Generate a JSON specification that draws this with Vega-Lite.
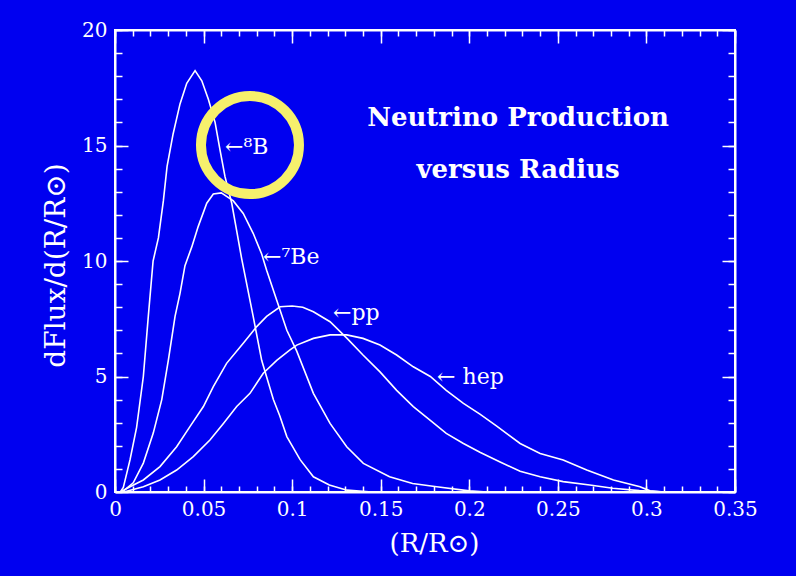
{
  "$schema": "https://vega.github.io/schema/vega-lite/v6.json",
  "width": 620,
  "height": 462,
  "autosize": "none",
  "padding": {"left": 115, "top": 30, "right": 61, "bottom": 84},
  "background": "#0000f0",
  "config": {
    "view": {"stroke": "white", "strokeWidth": 2},
    "font": "DejaVu Serif",
    "axis": {
      "domainColor": "white",
      "domainWidth": 2,
      "tickColor": "white",
      "tickWidth": 1.5,
      "labelColor": "white",
      "titleColor": "white",
      "labelFont": "DejaVu Serif",
      "titleFont": "DejaVu Serif",
      "labelFontSize": 20,
      "titleFontSize": 26,
      "titleFontWeight": "normal",
      "grid": false,
      "labelOverlap": false,
      "labelBound": false,
      "labelFlush": false
    }
  },
  "datasets": {
    "curves": [
      {"source": "8B", "r": 0.0, "flux": 0},
      {"source": "8B", "r": 0.003, "flux": 0},
      {"source": "8B", "r": 0.0047, "flux": 0.2},
      {"source": "8B", "r": 0.0085, "flux": 1.4},
      {"source": "8B", "r": 0.0122, "flux": 2.8},
      {"source": "8B", "r": 0.016, "flux": 5.0},
      {"source": "8B", "r": 0.0188, "flux": 7.6},
      {"source": "8B", "r": 0.0215, "flux": 10.0},
      {"source": "8B", "r": 0.0245, "flux": 11.0},
      {"source": "8B", "r": 0.0273, "flux": 12.6},
      {"source": "8B", "r": 0.0294, "flux": 14.1},
      {"source": "8B", "r": 0.0328, "flux": 15.5},
      {"source": "8B", "r": 0.0367, "flux": 16.8},
      {"source": "8B", "r": 0.0405, "flux": 17.69},
      {"source": "8B", "r": 0.0452, "flux": 18.24},
      {"source": "8B", "r": 0.049, "flux": 17.8},
      {"source": "8B", "r": 0.0527, "flux": 17.0},
      {"source": "8B", "r": 0.0565, "flux": 16.0},
      {"source": "8B", "r": 0.0593, "flux": 14.8},
      {"source": "8B", "r": 0.0621, "flux": 13.65},
      {"source": "8B", "r": 0.0659, "flux": 12.5},
      {"source": "8B", "r": 0.0687, "flux": 11.3},
      {"source": "8B", "r": 0.0715, "flux": 10.1},
      {"source": "8B", "r": 0.078, "flux": 7.6},
      {"source": "8B", "r": 0.0828, "flux": 5.7},
      {"source": "8B", "r": 0.0894, "flux": 4.0},
      {"source": "8B", "r": 0.093, "flux": 3.3},
      {"source": "8B", "r": 0.097, "flux": 2.4},
      {"source": "8B", "r": 0.1045, "flux": 1.4},
      {"source": "8B", "r": 0.112, "flux": 0.66},
      {"source": "8B", "r": 0.121, "flux": 0.3},
      {"source": "8B", "r": 0.131, "flux": 0.08},
      {"source": "8B", "r": 0.145, "flux": 0},
      {"source": "7Be", "r": 0.0, "flux": 0},
      {"source": "7Be", "r": 0.004, "flux": 0},
      {"source": "7Be", "r": 0.0103, "flux": 0.4},
      {"source": "7Be", "r": 0.016, "flux": 1.25},
      {"source": "7Be", "r": 0.0216, "flux": 2.55},
      {"source": "7Be", "r": 0.0264, "flux": 4.0},
      {"source": "7Be", "r": 0.0301, "flux": 5.7},
      {"source": "7Be", "r": 0.0339, "flux": 7.6},
      {"source": "7Be", "r": 0.0367, "flux": 8.6},
      {"source": "7Be", "r": 0.0395, "flux": 9.8},
      {"source": "7Be", "r": 0.0433, "flux": 10.6},
      {"source": "7Be", "r": 0.047, "flux": 11.5},
      {"source": "7Be", "r": 0.0518, "flux": 12.5},
      {"source": "7Be", "r": 0.0555, "flux": 12.9},
      {"source": "7Be", "r": 0.06, "flux": 12.95},
      {"source": "7Be", "r": 0.0668, "flux": 12.6},
      {"source": "7Be", "r": 0.0724, "flux": 12.06},
      {"source": "7Be", "r": 0.078, "flux": 11.2},
      {"source": "7Be", "r": 0.0828, "flux": 10.3},
      {"source": "7Be", "r": 0.0856, "flux": 9.6},
      {"source": "7Be", "r": 0.0913, "flux": 8.3},
      {"source": "7Be", "r": 0.097, "flux": 7.0},
      {"source": "7Be", "r": 0.1026, "flux": 6.1},
      {"source": "7Be", "r": 0.112, "flux": 4.27},
      {"source": "7Be", "r": 0.1214, "flux": 2.97},
      {"source": "7Be", "r": 0.1308, "flux": 1.96},
      {"source": "7Be", "r": 0.1402, "flux": 1.24},
      {"source": "7Be", "r": 0.155, "flux": 0.66},
      {"source": "7Be", "r": 0.168, "flux": 0.37},
      {"source": "7Be", "r": 0.1816, "flux": 0.23},
      {"source": "7Be", "r": 0.2, "flux": 0.05},
      {"source": "7Be", "r": 0.21, "flux": 0},
      {"source": "pp", "r": 0.0, "flux": 0},
      {"source": "pp", "r": 0.003, "flux": 0},
      {"source": "pp", "r": 0.0085, "flux": 0.23},
      {"source": "pp", "r": 0.016, "flux": 0.52},
      {"source": "pp", "r": 0.0254, "flux": 1.1},
      {"source": "pp", "r": 0.0348, "flux": 1.96},
      {"source": "pp", "r": 0.0423, "flux": 2.83},
      {"source": "pp", "r": 0.0499, "flux": 3.7},
      {"source": "pp", "r": 0.0555, "flux": 4.56},
      {"source": "pp", "r": 0.063, "flux": 5.57},
      {"source": "pp", "r": 0.0724, "flux": 6.44},
      {"source": "pp", "r": 0.08, "flux": 7.16},
      {"source": "pp", "r": 0.0856, "flux": 7.6},
      {"source": "pp", "r": 0.0932, "flux": 8.02},
      {"source": "pp", "r": 0.1, "flux": 8.05},
      {"source": "pp", "r": 0.106, "flux": 8.0},
      {"source": "pp", "r": 0.112, "flux": 7.8},
      {"source": "pp", "r": 0.1214, "flux": 7.37},
      {"source": "pp", "r": 0.131, "flux": 6.65},
      {"source": "pp", "r": 0.14, "flux": 5.93},
      {"source": "pp", "r": 0.1496, "flux": 5.2},
      {"source": "pp", "r": 0.159, "flux": 4.4},
      {"source": "pp", "r": 0.1684, "flux": 3.7},
      {"source": "pp", "r": 0.178, "flux": 3.1},
      {"source": "pp", "r": 0.187, "flux": 2.54},
      {"source": "pp", "r": 0.1967, "flux": 2.1},
      {"source": "pp", "r": 0.206, "flux": 1.72},
      {"source": "pp", "r": 0.2174, "flux": 1.3},
      {"source": "pp", "r": 0.2287, "flux": 0.9},
      {"source": "pp", "r": 0.24, "flux": 0.66},
      {"source": "pp", "r": 0.253, "flux": 0.45},
      {"source": "pp", "r": 0.268, "flux": 0.3},
      {"source": "pp", "r": 0.281, "flux": 0.16},
      {"source": "pp", "r": 0.296, "flux": 0.06},
      {"source": "pp", "r": 0.31, "flux": 0},
      {"source": "hep", "r": 0.0, "flux": 0},
      {"source": "hep", "r": 0.005, "flux": 0},
      {"source": "hep", "r": 0.016, "flux": 0.23},
      {"source": "hep", "r": 0.0254, "flux": 0.52},
      {"source": "hep", "r": 0.0348, "flux": 0.95},
      {"source": "hep", "r": 0.0442, "flux": 1.53},
      {"source": "hep", "r": 0.0536, "flux": 2.25},
      {"source": "hep", "r": 0.0612, "flux": 2.97},
      {"source": "hep", "r": 0.0687, "flux": 3.7},
      {"source": "hep", "r": 0.0762, "flux": 4.27},
      {"source": "hep", "r": 0.0837, "flux": 5.14},
      {"source": "hep", "r": 0.0913, "flux": 5.7},
      {"source": "hep", "r": 0.0988, "flux": 6.15},
      {"source": "hep", "r": 0.1026, "flux": 6.36},
      {"source": "hep", "r": 0.112, "flux": 6.65},
      {"source": "hep", "r": 0.1214, "flux": 6.8},
      {"source": "hep", "r": 0.1308, "flux": 6.8},
      {"source": "hep", "r": 0.14, "flux": 6.65},
      {"source": "hep", "r": 0.1496, "flux": 6.36},
      {"source": "hep", "r": 0.159, "flux": 5.93},
      {"source": "hep", "r": 0.1684, "flux": 5.42},
      {"source": "hep", "r": 0.178, "flux": 5.0},
      {"source": "hep", "r": 0.187, "flux": 4.4},
      {"source": "hep", "r": 0.1967, "flux": 3.84},
      {"source": "hep", "r": 0.206, "flux": 3.37},
      {"source": "hep", "r": 0.2155, "flux": 2.85},
      {"source": "hep", "r": 0.2287, "flux": 2.1},
      {"source": "hep", "r": 0.24, "flux": 1.67},
      {"source": "hep", "r": 0.253, "flux": 1.39},
      {"source": "hep", "r": 0.2663, "flux": 0.95},
      {"source": "hep", "r": 0.2814, "flux": 0.52},
      {"source": "hep", "r": 0.2964, "flux": 0.23},
      {"source": "hep", "r": 0.302, "flux": 0.05},
      {"source": "hep", "r": 0.31, "flux": 0}
    ],
    "curveLabels": [
      {"text": "←⁸B", "r": 0.0621, "flux": 14.94},
      {"text": "←⁷Be", "r": 0.0836, "flux": 10.17},
      {"text": "←pp", "r": 0.1231, "flux": 7.75},
      {"text": "← hep", "r": 0.1818, "flux": 4.98}
    ],
    "heading": [
      {"text": "Neutrino Production", "r": 0.2275, "flux": 16.19},
      {"text": "versus Radius", "r": 0.2275, "flux": 13.94}
    ],
    "highlight": [
      {"r": 0.0762, "flux": 15.02}
    ]
  },
  "layer": [
    {
      "layer": [
        {
          "data": {"name": "curves"},
          "mark": {"type": "line", "color": "white", "strokeWidth": 1.6, "clip": true},
          "encoding": {
            "x": {"field": "r", "type": "quantitative", "scale": {"domain": [0, 0.35], "nice": false, "zero": false},
              "axis": {
                "orient": "bottom",
                "values": [0, 0.05, 0.1, 0.15, 0.2, 0.25, 0.3, 0.35],
                "format": "~g",
                "tickSize": -13,
                "labelPadding": 20,
                "title": "(R/R⊙)",
                "titleX": 319,
                "titleY": 51,
                "titleAlign": "center",
                "titleBaseline": "middle"
              }},
            "y": {"field": "flux", "type": "quantitative", "scale": {"domain": [0, 20], "nice": false, "zero": false},
              "axis": {
                "orient": "left",
                "values": [0, 5, 10, 15, 20],
                "format": "d",
                "tickSize": -13,
                "labelPadding": 21,
                "title": "dFlux/d(R/R⊙)",
                "titleFontSize": 28,
                "titleAngle": 270,
                "titleX": -59,
                "titleY": 235,
                "titleAlign": "center",
                "titleBaseline": "middle"
              }},
            "detail": {"field": "source"}
          }
        },
        {
          "data": {"name": "curveLabels"},
          "mark": {"type": "text", "color": "white", "align": "left", "baseline": "middle", "fontSize": 22, "font": "DejaVu Serif"},
          "encoding": {
            "x": {"field": "r", "type": "quantitative"},
            "y": {"field": "flux", "type": "quantitative"},
            "text": {"field": "text"}
          }
        },
        {
          "data": {"name": "heading"},
          "mark": {"type": "text", "color": "white", "align": "center", "baseline": "middle", "fontSize": 26, "fontWeight": "bold", "font": "DejaVu Serif"},
          "encoding": {
            "x": {"field": "r", "type": "quantitative"},
            "y": {"field": "flux", "type": "quantitative"},
            "text": {"field": "text"}
          }
        }
      ]
    },
    {
      "data": {"name": "highlight"},
      "mark": {"type": "point", "shape": "circle", "filled": false, "stroke": "#f6f06c", "strokeWidth": 10, "size": 9604, "opacity": 1},
      "encoding": {
        "x": {"field": "r", "type": "quantitative",
          "axis": {"orient": "top", "values": [0, 0.05, 0.1, 0.15, 0.2, 0.25, 0.3, 0.35], "labels": false, "tickSize": -13, "title": null}},
        "y": {"field": "flux", "type": "quantitative",
          "axis": {"orient": "right", "values": [0, 5, 10, 15, 20], "labels": false, "tickSize": -13, "title": null}}
      }
    },
    {
      "data": {"name": "highlight"},
      "mark": {"type": "point", "opacity": 0},
      "encoding": {
        "x": {"field": "r", "type": "quantitative",
          "axis": {"orient": "bottom", "values": [0,0.01,0.02,0.03,0.04,0.05,0.06,0.07,0.08,0.09,0.1,0.11,0.12,0.13,0.14,0.15,0.16,0.17,0.18,0.19,0.2,0.21,0.22,0.23,0.24,0.25,0.26,0.27,0.28,0.29,0.3,0.31,0.32,0.33,0.34,0.35], "labels": false, "domain": false, "tickSize": -6, "title": null}},
        "y": {"field": "flux", "type": "quantitative",
          "axis": {"orient": "left", "values": [0,1,2,3,4,5,6,7,8,9,10,11,12,13,14,15,16,17,18,19,20], "labels": false, "domain": false, "tickSize": -7, "title": null}}
      }
    },
    {
      "data": {"name": "highlight"},
      "mark": {"type": "point", "opacity": 0},
      "encoding": {
        "x": {"field": "r", "type": "quantitative",
          "axis": {"orient": "top", "values": [0,0.01,0.02,0.03,0.04,0.05,0.06,0.07,0.08,0.09,0.1,0.11,0.12,0.13,0.14,0.15,0.16,0.17,0.18,0.19,0.2,0.21,0.22,0.23,0.24,0.25,0.26,0.27,0.28,0.29,0.3,0.31,0.32,0.33,0.34,0.35], "labels": false, "domain": false, "tickSize": -6, "title": null}},
        "y": {"field": "flux", "type": "quantitative",
          "axis": {"orient": "right", "values": [0,1,2,3,4,5,6,7,8,9,10,11,12,13,14,15,16,17,18,19,20], "labels": false, "domain": false, "tickSize": -7, "title": null}}
      }
    }
  ],
  "resolve": {"axis": {"x": "independent", "y": "independent"}}
}
